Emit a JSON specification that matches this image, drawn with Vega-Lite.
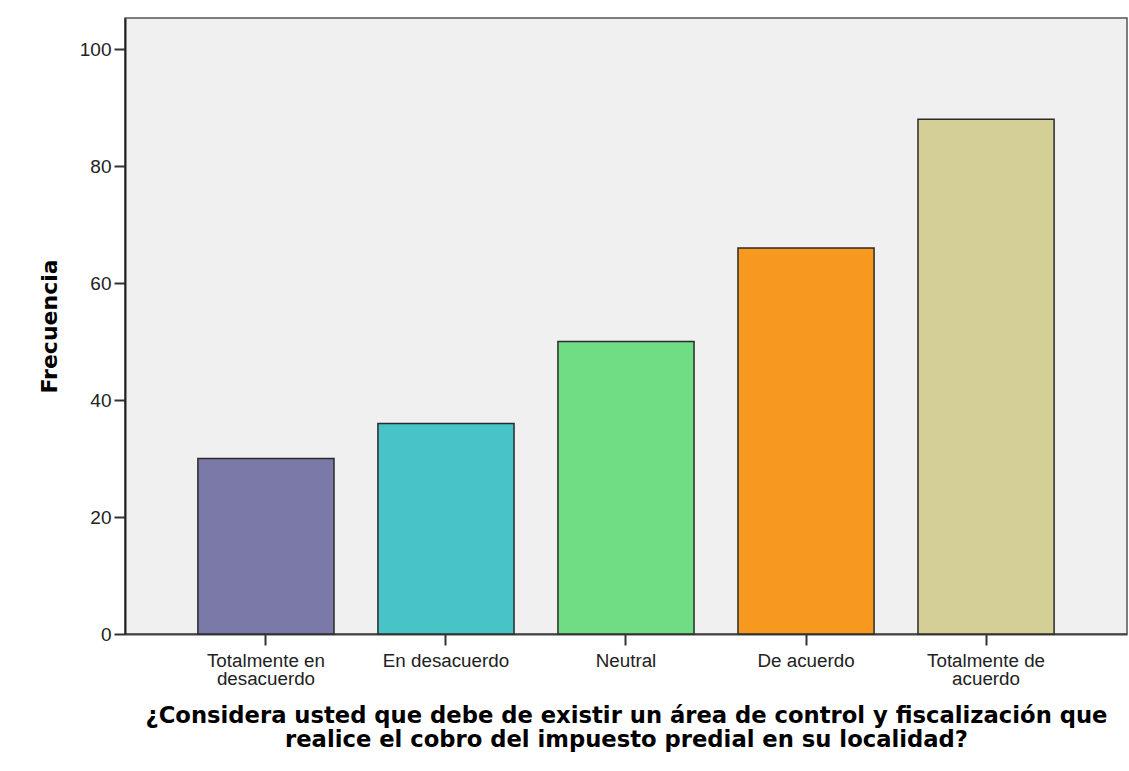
{
  "$schema": "https://vega.github.io/schema/vega-lite/v6.json",
  "autosize": "none",
  "width": 1002,
  "height": 616,
  "padding": {"left": 125, "top": 18, "right": 2, "bottom": 137},
  "background": "white",
  "data": {"values": [
    {"respuesta": "Totalmente en desacuerdo", "frecuencia": 30},
    {"respuesta": "En desacuerdo", "frecuencia": 36},
    {"respuesta": "Neutral", "frecuencia": 50},
    {"respuesta": "De acuerdo", "frecuencia": 66},
    {"respuesta": "Totalmente de acuerdo", "frecuencia": 88}
  ]},
  "mark": {"type": "bar", "stroke": "#2b2b2b", "strokeWidth": 1.5},
  "encoding": {
    "x": {
      "field": "respuesta", "type": "nominal", "sort": null,
      "scale": {"paddingInner": 0.244, "paddingOuter": 0.405},
      "axis": {
        "labelAngle": 0,
        "labelFont": "Liberation Sans", "labelFontSize": 18.8, "labelColor": "#222",
        "labelLineHeight": 18.8,
        "labelExpr": "datum.label == 'Totalmente en desacuerdo' ? ['Totalmente en', 'desacuerdo'] : datum.label == 'Totalmente de acuerdo' ? ['Totalmente de', 'acuerdo'] : datum.label",
        "tickSize": 11, "tickColor": "#333", "tickWidth": 2,
        "domainColor": "#444", "domainWidth": 2,
        "labelPadding": 6,
        "title": ["¿Considera usted que debe de existir un área de control y fiscalización que", "realice el cobro del impuesto predial en su localidad?"],
        "titleFont": "DejaVu Sans", "titleFontSize": 22.7, "titleFontWeight": "bold",
        "titleColor": "#000", "titleLineHeight": 24, "titlePadding": 16
      }
    },
    "y": {
      "field": "frecuencia", "type": "quantitative",
      "scale": {"domain": [0, 105.3], "nice": false},
      "axis": {
        "values": [0, 20, 40, 60, 80, 100],
        "grid": false,
        "labelFont": "Liberation Sans", "labelFontSize": 19, "labelColor": "#222",
        "tickSize": 11, "tickColor": "#333", "tickWidth": 2,
        "domainColor": "#222", "domainWidth": 2,
        "labelPadding": 3,
        "title": "Frecuencia",
        "titleFont": "DejaVu Sans", "titleFontSize": 22, "titleFontWeight": "bold",
        "titleColor": "#000", "titlePadding": 18
      }
    },
    "color": {
      "field": "respuesta", "type": "nominal", "sort": null, "legend": null,
      "scale": {
        "domain": ["Totalmente en desacuerdo", "En desacuerdo", "Neutral", "De acuerdo", "Totalmente de acuerdo"],
        "range": ["#7b79a8", "#48c3c6", "#70dc84", "#f7991f", "#d4cf97"]
      }
    }
  },
  "config": {
    "view": {"fill": "#f0f0f0", "stroke": "#555", "strokeWidth": 1.5}
  }
}
